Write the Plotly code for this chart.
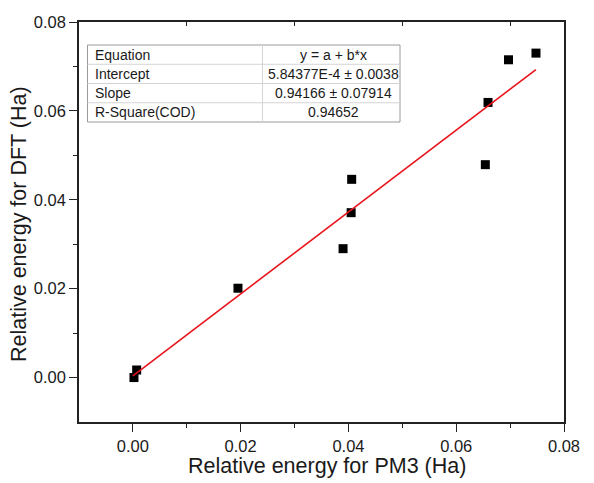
import plotly.graph_objects as go

# ---- data ----
pm3_energy = [0.0002, 0.0007, 0.0195, 0.0390, 0.0405, 0.0406, 0.0654, 0.0659, 0.0697, 0.0748]
dft_energy = [0.0000, 0.0017, 0.0201, 0.0290, 0.0371, 0.0446, 0.0479, 0.0619, 0.0715, 0.0730]

# linear-fit line as drawn in the reference (end points)
fit_line_x = [0.0000, 0.0748]
fit_line_y = [0.0004, 0.0693]

table_labels = ["Equation", "Intercept", "Slope", "R-Square(COD)"]
table_values = ["y = a + b*x", "5.84377E-4 ± 0.0038", "0.94166 ± 0.07914", "0.94652"]

tick_vals = [0.00, 0.02, 0.04, 0.06, 0.08]
tick_text = ["0.00", "0.02", "0.04", "0.06", "0.08"]
minor_vals = [0.01, 0.03, 0.05, 0.07]

x_title = "Relative energy for PM3 (Ha)"
y_title = "Relative energy for DFT (Ha)"

FONT = "Liberation Sans, Arial, sans-serif"
TXT = "#1a1a1a"

# page body adds an 8px offset, so the figure is drawn 8px smaller
W, H = 586, 475
ML, MR, MT, MB = 71, 30, 14, 61
PW, PH = W - ML - MR, H - MT - MB  # 485 x 400 plot area


def px_x(px):  # screen px -> paper x
    return (px - 8 - ML) / PW


def px_y(py):  # screen px -> paper y
    return 1 - (py - 8 - MT) / PH


fig = go.Figure()

fig.add_trace(go.Scatter(
    x=pm3_energy, y=dft_energy, mode="markers",
    marker=dict(symbol="square", size=9, color="black"),
    showlegend=False, hoverinfo="x+y"))

fig.add_trace(go.Scatter(
    x=fit_line_x, y=fit_line_y, mode="lines",
    line=dict(color="#e8141b", width=1.6),
    showlegend=False))

fig.add_trace(go.Scatter(x=[None], y=[None], xaxis="x2", yaxis="y", showlegend=False))

# ---- fit-results table (shapes + annotations) ----
t_left, t_div, t_right = px_x(87.5), px_x(262.5), px_x(400)
t_top, t_bot = px_y(45), px_y(122)
n_rows = len(table_labels)
row_h = (t_top - t_bot) / n_rows

shapes = [dict(type="rect", xref="paper", yref="paper",
               x0=t_left, x1=t_right, y0=t_bot, y1=t_top,
               line=dict(color="#9a9a9a", width=1), fillcolor="white", layer="above")]
for i in range(1, n_rows):
    yy = t_top - i * row_h
    shapes.append(dict(type="line", xref="paper", yref="paper",
                       x0=t_left, x1=t_right, y0=yy, y1=yy,
                       line=dict(color="#d4d4d4", width=1), layer="above"))
shapes.append(dict(type="line", xref="paper", yref="paper",
                   x0=t_div, x1=t_div, y0=t_bot, y1=t_top,
                   line=dict(color="#d4d4d4", width=1), layer="above"))

annotations = []
for i, (lab, val) in enumerate(zip(table_labels, table_values)):
    yc = t_top - (i + 0.5) * row_h
    annotations.append(dict(text=lab, xref="paper", yref="paper",
                            x=px_x(93), y=yc,
                            xanchor="left", yanchor="middle", showarrow=False,
                            font=dict(family=FONT, size=14, color=TXT)))
    annotations.append(dict(text=val, xref="paper", yref="paper",
                            x=px_x(333), y=yc,
                            xanchor="center", yanchor="middle", showarrow=False,
                            font=dict(family=FONT, size=14, color=TXT)))

# axis titles
annotations.append(dict(text=x_title, xref="paper", yref="paper",
                        x=px_x(327), y=px_y(466), xanchor="center", yanchor="middle",
                        showarrow=False, font=dict(family=FONT, size=21.5, color=TXT)))
annotations.append(dict(text=y_title, xref="paper", yref="paper",
                        x=px_x(19), y=px_y(224), xanchor="center", yanchor="middle",
                        textangle=-90, showarrow=False,
                        font=dict(family=FONT, size=21.5, color=TXT)))

axis_common = dict(
    range=[-0.01, 0.08], showgrid=False, zeroline=False, automargin=False,
    showline=True, linecolor="#222222", linewidth=1.6,
    tickvals=tick_vals, ticktext=tick_text,
    ticks="outside", ticklen=8, tickwidth=1.4, tickcolor="#222222",
    tickfont=dict(family=FONT, size=16.5, color=TXT),
    minor=dict(tickvals=minor_vals, ticks="outside", ticklen=4.5,
               tickwidth=1.4, tickcolor="#222222"),
)

fig.update_layout(
    width=W, height=H,
    margin=dict(l=ML, r=MR, t=MT, b=MB),
    paper_bgcolor="white", plot_bgcolor="white",
    font=dict(family=FONT, color=TXT),
    xaxis=dict(**axis_common, mirror=True),
    yaxis=dict(**axis_common, mirror=True),
    xaxis2=dict(range=[-0.01, 0.08], overlaying="x", side="top",
                showgrid=False, zeroline=False, showline=False,
                tickvals=minor_vals, ticks="inside", ticklen=4,
                tickwidth=1.4, tickcolor="#222222", showticklabels=False),
    shapes=shapes,
    annotations=annotations,
)

fig.write_html("out.html")
